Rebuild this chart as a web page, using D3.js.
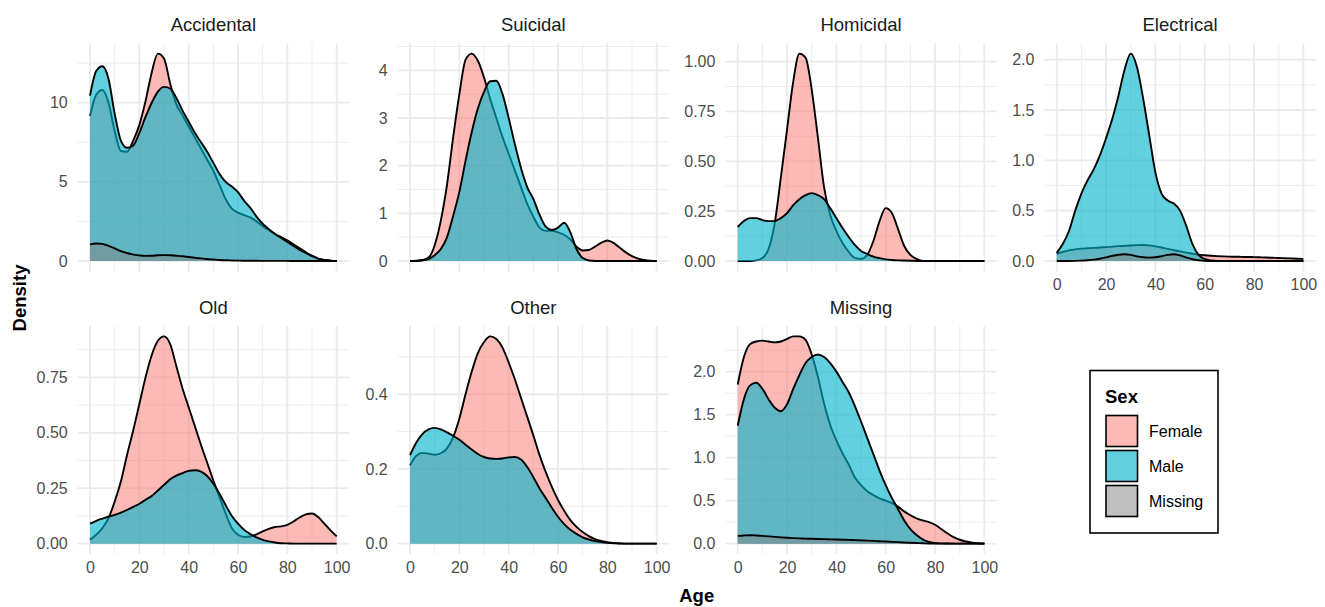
<!DOCTYPE html>
<html>
<head>
<meta charset="utf-8">
<script src="https://cdn.jsdelivr.net/npm/d3@7"></script>
<style>
  body { margin: 0; background: #fff; }
  svg { display: block; font-family: "Liberation Sans", Arial, sans-serif; }
  .grid-major { stroke: #EBEBEB; stroke-width: 1.8; }
  .grid-minor { stroke: #EBEBEB; stroke-width: 0.9; }
</style>
</head>
<body>
<div id="chart"></div>
<script>
// ── data (density by age) ─────────────────────────────────────
const ages = [0, 2.5, 5, 7.5, 10, 12.5, 15, 17.5, 20, 22.5, 25, 27.5, 30, 32.5, 35, 37.5, 40,
     42.5, 45, 47.5, 50, 52.5, 55, 57.5, 60, 62.5, 65, 67.5, 70, 72.5, 75, 77.5, 80, 82.5, 85,
     87.5, 90, 92.5, 95, 97.5, 100];

const causes = ['Accidental', 'Suicidal', 'Homicidal', 'Electrical', 'Old', 'Other', 'Missing'];
const sexes = ['Female', 'Male', 'Missing'];

const accidentalFemale = [9.17, 10.5, 10.8, 10.0, 8.2, 6.95, 6.9, 7.6, 8.6, 10.1, 11.9, 13.1, 12.8, 11.2, 9.9,
     9.2, 8.5, 7.8, 7.1, 6.4, 5.7, 4.8, 3.9, 3.3, 3.05, 2.9, 2.75, 2.5, 2.2, 1.95, 1.7, 1.5, 1.3, 1.05,
     0.8, 0.55, 0.33, 0.15, 0.06, 0.02, 0];
const accidentalMale = [10.45, 12.0, 12.3, 11.5, 9.3, 7.6, 7.15, 7.3, 8.1, 9.1, 10.0, 10.7, 11.0, 10.9, 10.3,
     9.5, 8.8, 8.1, 7.5, 6.9, 6.2, 5.5, 5.0, 4.7, 4.35, 3.8, 3.35, 2.8, 2.35, 2.0, 1.7, 1.45, 1.2, 0.95,
     0.7, 0.5, 0.3, 0.15, 0.06, 0.02, 0];
const accidentalMissing = [1.05, 1.1, 1.08, 0.95, 0.8, 0.62, 0.5, 0.4, 0.35, 0.32, 0.33, 0.36, 0.37, 0.36,
     0.33, 0.3, 0.25, 0.2, 0.16, 0.12, 0.09, 0.06, 0.04, 0.03, 0.02, 0.015, 0.01, 0.008, 0.006, 0.004,
     0.003, 0.002, 0.001, 0, 0, 0, 0, 0, 0, 0, 0];

const suicidalFemale = [0, 0.005, 0.02, 0.07, 0.33, 0.85, 1.6, 2.6, 3.5, 4.22, 4.35, 4.2, 3.85, 3.4, 3.0,
     2.6, 2.25, 1.9, 1.55, 1.2, 0.93, 0.7, 0.63, 0.63, 0.6, 0.55, 0.45, 0.3, 0.22, 0.23, 0.3, 0.38, 0.43,
     0.38, 0.28, 0.18, 0.1, 0.05, 0.02, 0.005, 0];
const suicidalMale = [0, 0, 0.01, 0.04, 0.12, 0.25, 0.5, 0.95, 1.45, 2.1, 2.7, 3.2, 3.55, 3.77, 3.78, 3.5,
     3.0, 2.45, 1.95, 1.55, 1.3, 0.97, 0.72, 0.65, 0.7, 0.8, 0.6, 0.25, 0.06, 0.01, 0, 0, 0, 0, 0, 0, 0,
     0, 0, 0, 0];

const homicidalFemale = [0, 0, 0, 0.003, 0.015, 0.06, 0.19, 0.42, 0.66, 0.9, 1.04, 1.02, 0.86, 0.62, 0.37,
     0.23, 0.15, 0.09, 0.045, 0.015, 0.01, 0.03, 0.1, 0.2, 0.265, 0.24, 0.16, 0.075, 0.03, 0.01, 0, 0, 0,
     0, 0, 0, 0, 0, 0, 0, 0];
const homicidalMale = [0.17, 0.2, 0.215, 0.215, 0.205, 0.2, 0.2, 0.215, 0.24, 0.28, 0.31, 0.33, 0.34, 0.33,
     0.31, 0.265, 0.215, 0.165, 0.12, 0.08, 0.05, 0.035, 0.022, 0.014, 0.008, 0.005, 0.003, 0.002, 0.001,
     0, 0, 0, 0, 0, 0, 0, 0, 0, 0, 0, 0];

const electricalFemale = [0.07, 0.09, 0.105, 0.115, 0.122, 0.126, 0.13, 0.133, 0.137, 0.142, 0.147, 0.15,
     0.153, 0.157, 0.158, 0.155, 0.145, 0.133, 0.12, 0.107, 0.095, 0.082, 0.072, 0.063, 0.057, 0.052,
     0.048, 0.045, 0.043, 0.042, 0.04, 0.039, 0.038, 0.036, 0.034, 0.031, 0.029, 0.027, 0.025, 0.022, 0.02];
const electricalMale = [0.08, 0.17, 0.3, 0.5, 0.67, 0.8, 0.91, 1.05, 1.22, 1.41, 1.64, 1.9, 2.06, 1.93, 1.62,
     1.25, 0.88, 0.67, 0.6, 0.57, 0.5, 0.35, 0.17, 0.06, 0.02, 0.005, 0, 0, 0, 0, 0, 0, 0, 0, 0, 0, 0, 0,
     0, 0, 0];
const electricalMissing = [0, 0, 0, 0.001, 0.003, 0.007, 0.013, 0.022, 0.035, 0.05, 0.062, 0.067, 0.06,
     0.045, 0.036, 0.033, 0.036, 0.047, 0.06, 0.067, 0.055, 0.035, 0.017, 0.007, 0.002, 0, 0, 0, 0, 0, 0,
     0, 0, 0, 0, 0, 0, 0, 0, 0, 0];

const oldFemale = [0.018, 0.04, 0.07, 0.115, 0.19, 0.28, 0.4, 0.51, 0.63, 0.75, 0.85, 0.915, 0.935, 0.9, 0.8,
     0.7, 0.615, 0.53, 0.445, 0.365, 0.285, 0.21, 0.135, 0.07, 0.04, 0.03, 0.032, 0.042, 0.055, 0.067,
     0.075, 0.078, 0.085, 0.1, 0.118, 0.132, 0.136, 0.12, 0.09, 0.06, 0.033];
const oldMale = [0.09, 0.103, 0.113, 0.122, 0.13, 0.14, 0.152, 0.166, 0.18, 0.198, 0.215, 0.24, 0.265, 0.29,
     0.307, 0.318, 0.328, 0.331, 0.325, 0.305, 0.27, 0.225, 0.173, 0.125, 0.09, 0.062, 0.043, 0.028,
     0.017, 0.01, 0.005, 0.002, 0.001, 0, 0, 0, 0, 0, 0, 0, 0];

const otherFemale = [0.21, 0.235, 0.243, 0.241, 0.238, 0.242, 0.255, 0.285, 0.335, 0.4, 0.46, 0.51, 0.54,
     0.555, 0.548, 0.525, 0.485, 0.44, 0.39, 0.34, 0.29, 0.237, 0.192, 0.152, 0.117, 0.088, 0.063, 0.045,
     0.031, 0.02, 0.012, 0.007, 0.004, 0.002, 0.001, 0, 0, 0, 0, 0, 0];
const otherMale = [0.237, 0.27, 0.293, 0.306, 0.31, 0.306, 0.298, 0.289, 0.278, 0.265, 0.252, 0.24, 0.232,
     0.228, 0.227, 0.228, 0.231, 0.232, 0.225, 0.205, 0.178, 0.148, 0.122, 0.096, 0.072, 0.052, 0.037,
     0.026, 0.017, 0.011, 0.007, 0.004, 0.002, 0.001, 0, 0, 0, 0, 0, 0, 0];

const missingFemale = [1.85, 2.17, 2.32, 2.35, 2.36, 2.35, 2.34, 2.35, 2.38, 2.41, 2.41, 2.37, 2.2, 1.94,
     1.63, 1.38, 1.2, 1.05, 0.92, 0.77, 0.68, 0.61, 0.565, 0.525, 0.5, 0.47, 0.43, 0.375, 0.33, 0.295,
     0.27, 0.25, 0.22, 0.17, 0.12, 0.075, 0.045, 0.025, 0.012, 0.005, 0.002];
const missingMale = [1.37, 1.68, 1.84, 1.87, 1.8, 1.68, 1.58, 1.54, 1.62, 1.8, 1.96, 2.1, 2.17, 2.2, 2.17,
     2.1, 2.0, 1.88, 1.76, 1.6, 1.42, 1.23, 1.04, 0.85, 0.68, 0.53, 0.4, 0.27, 0.17, 0.1, 0.05, 0.02,
     0.008, 0.003, 0.001, 0, 0, 0, 0, 0, 0];
const missingMissing = [0.09, 0.095, 0.098, 0.095, 0.09, 0.085, 0.079, 0.073, 0.068, 0.064, 0.061, 0.058,
     0.056, 0.054, 0.052, 0.05, 0.048, 0.046, 0.044, 0.041, 0.038, 0.035, 0.032, 0.028, 0.025, 0.021,
     0.017, 0.013, 0.01, 0.007, 0.004, 0.002, 0.001, 0, 0, 0, 0, 0, 0, 0, 0];

// tick values and labels
const xTicks = [0, 20, 40, 60, 80, 100];
const accidentalTicks = [0, 5, 10], accidentalLabels = ['0', '5', '10'];
const suicidalTicks = [0, 1, 2, 3, 4], suicidalLabels = ['0', '1', '2', '3', '4'];
const homicidalTicks = [0, 0.25, 0.5, 0.75, 1], homicidalLabels = ['0.00', '0.25', '0.50', '0.75', '1.00'];
const electricalTicks = [0, 0.5, 1, 1.5, 2], electricalLabels = ['0.0', '0.5', '1.0', '1.5', '2.0'];
const oldTicks = [0, 0.25, 0.5, 0.75], oldLabels = ['0.00', '0.25', '0.50', '0.75'];
const otherTicks = [0, 0.2, 0.4], otherLabels = ['0.0', '0.2', '0.4'];
const missingTicks = [0, 0.5, 1, 1.5, 2], missingLabels = ['0.0', '0.5', '1.0', '1.5', '2.0'];

// ── panel table ─────────────────────────────────────────
const panels = [
     { name: causes[0], series: [accidentalFemale, accidentalMale, accidentalMissing], ticks: accidentalTicks, labels: accidentalLabels },
     { name: causes[1], series: [suicidalFemale, suicidalMale], ticks: suicidalTicks, labels: suicidalLabels },
     { name: causes[2], series: [homicidalFemale, homicidalMale], ticks: homicidalTicks, labels: homicidalLabels },
     { name: causes[3], series: [electricalFemale, electricalMale, electricalMissing], ticks: electricalTicks, labels: electricalLabels },
     { name: causes[4], series: [oldFemale, oldMale], ticks: oldTicks, labels: oldLabels },
     { name: causes[5], series: [otherFemale, otherMale], ticks: otherTicks, labels: otherLabels },
     { name: causes[6], series: [missingFemale, missingMale, missingMissing], ticks: missingTicks, labels: missingLabels }
];

const fillColor = { Female: '#F8766D', Male: '#00B5CC', Missing: '#7F7F7F' };
const fillAlpha = { Female: 0.5, Male: 0.62, Missing: 0.5 };

// ── layout ────────────────────────────────────────────
const W = 1325, H = 607;
const colLeft = [77.7, 397.7, 725.4, 1044.4];
const rowTop = [43.3, 326];
const panelW = 271.3, panelH = 228;
const tickFont = '16px', tickColor = '#4D4D4D';
const fontStack = '"Liberation Sans", Arial, sans-serif';

const svg = d3.select('#chart').append('svg')
     .attr('width', W).attr('height', H)
     .attr('viewBox', `0 0 ${W} ${H}`);

panels.forEach((p, i) => {
     const col = i % 4, row = Math.floor(i / 4);
     const left = colLeft[col], top = rowTop[row];
     const x = d3.scaleLinear().domain([-5, 105]).range([left, left + panelW]);
     const yMax = d3.max(p.series, s => d3.max(s));
     const y = d3.scaleLinear().domain([-0.05 * yMax, 1.05 * yMax]).range([top + panelH, top]);

     const g = svg.append('g').attr('class', 'panel');

     // grid
     const xMinor = xTicks.slice(0, -1).map((t, k) => (t + xTicks[k + 1]) / 2);
     const step = p.ticks[1] - p.ticks[0];
     const yMinor = p.ticks.map(t => t + step / 2).filter(v => v <= y.domain()[1]);

     g.selectAll('.vminor').data(xMinor).join('line').attr('class', 'grid-minor')
          .attr('x1', d => x(d)).attr('x2', d => x(d)).attr('y1', top).attr('y2', top + panelH);
     g.selectAll('.hminor').data(yMinor).join('line').attr('class', 'grid-minor')
          .attr('x1', left).attr('x2', left + panelW).attr('y1', d => y(d)).attr('y2', d => y(d));
     g.selectAll('.vmajor').data(xTicks).join('line').attr('class', 'grid-major')
          .attr('x1', d => x(d)).attr('x2', d => x(d)).attr('y1', top).attr('y2', top + panelH);
     g.selectAll('.hmajor').data(p.ticks).join('line').attr('class', 'grid-major')
          .attr('x1', left).attr('x2', left + panelW).attr('y1', d => y(d)).attr('y2', d => y(d));

     // densities: fill then outline, per group
     const area = d3.area().x((d, k) => x(ages[k])).y0(y(0)).y1(d => y(d)).curve(d3.curveMonotoneX);
     const line = d3.line().x((d, k) => x(ages[k])).y(d => y(d)).curve(d3.curveMonotoneX);
     p.series.forEach((vals, s) => {
          const sex = sexes[s];
          g.append('path').attr('d', area(vals))
               .attr('fill', fillColor[sex]).attr('fill-opacity', fillAlpha[sex]);
          g.append('path').attr('d', line(vals))
               .attr('fill', 'none').attr('stroke', '#000').attr('stroke-width', 1.9)
               .attr('stroke-linejoin', 'round');
     });

     // y axis labels
     const ya = g.append('g').attr('transform', `translate(${left},0)`)
          .call(d3.axisLeft(y).tickValues(p.ticks).tickSize(0).tickPadding(10)
               .tickFormat((d, k) => p.labels[k]));
     ya.select('.domain').remove();
     ya.selectAll('text').attr('font-size', tickFont).attr('fill', tickColor).attr('font-family', fontStack);

     // x axis labels only where no panel below
     if (row === 1 || col === 3) {
          const xa = g.append('g').attr('transform', `translate(0,${top + panelH})`)
               .call(d3.axisBottom(x).tickValues(xTicks).tickSize(0).tickPadding(7.5));
          xa.select('.domain').remove();
          xa.selectAll('text').attr('font-size', tickFont).attr('fill', tickColor).attr('font-family', fontStack);
     }

     // strip title
     g.append('text')
          .attr('x', left + panelW / 2).attr('y', top - 12.5)
          .attr('text-anchor', 'middle')
          .attr('font-size', '18.5px').attr('fill', '#1A1A1A')
          .text(p.name);
});

// axis titles
svg.append('text')
     .attr('transform', 'translate(26,298) rotate(-90)')
     .attr('text-anchor', 'middle').attr('font-size', '18.5px').attr('font-weight', 'bold')
     .text('Density');
svg.append('text')
     .attr('x', (colLeft[0] + colLeft[3] + panelW) / 2).attr('y', 602)
     .attr('text-anchor', 'middle').attr('font-size', '18.5px').attr('font-weight', 'bold')
     .text('Age');

// ── legend ────────────────────────────────────────────
const lg = svg.append('g').attr('class', 'legend');
lg.append('rect').attr('x', 1090).attr('y', 370.5).attr('width', 128).attr('height', 162.5)
     .attr('fill', '#fff').attr('stroke', '#000').attr('stroke-width', 1.6);
lg.append('text').attr('x', 1105).attr('y', 402.5)
     .attr('font-size', '18.5px').attr('font-weight', 'bold').text('Sex');
sexes.forEach((sex, k) => {
     const ky = 415.5 + k * 35;
     lg.append('rect').attr('x', 1106).attr('y', ky).attr('width', 31.5).attr('height', 31)
          .attr('fill', fillColor[sex]).attr('fill-opacity', fillAlpha[sex])
          .attr('stroke', '#000').attr('stroke-width', 1.6);
     lg.append('text').attr('x', 1149).attr('y', ky + 15.5).attr('dy', '0.35em')
          .attr('font-size', '16px').attr('fill', '#000').text(sex);
});
</script>
</body>
</html>
